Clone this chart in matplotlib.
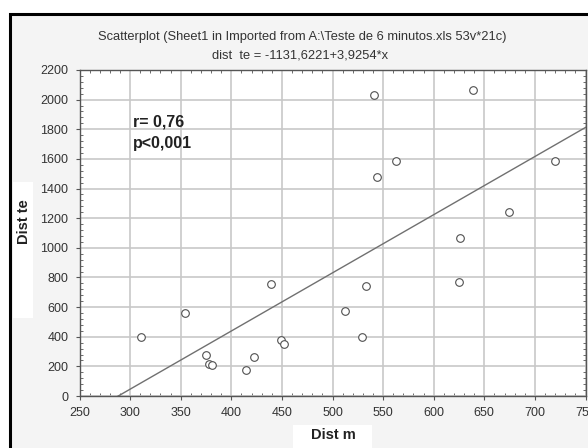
import matplotlib
matplotlib.use("Agg")
import matplotlib.pyplot as plt
from matplotlib.patches import Rectangle
from matplotlib.ticker import MultipleLocator

plt.rcParams['font.family'] = ['Liberation Sans', 'DejaVu Sans']

# data
dist_m = [311, 354, 375, 378, 381, 415, 422, 439, 449, 452,
          512, 529, 533, 541, 544, 563, 625, 626, 639, 674, 720]
dist_te = [395, 559, 274, 217, 210, 175, 265, 754, 377, 352,
           574, 397, 743, 2032, 1477, 1587, 770, 1066, 2065, 1241, 1587]
intercept = -1131.6221
slope = 3.9254
x_ticks = [250, 300, 350, 400, 450, 500, 550, 600, 650, 700, 750]
y_ticks = [0, 200, 400, 600, 800, 1000, 1200, 1400, 1600, 1800, 2000, 2200]

W, H = 588, 448
fig = plt.figure(figsize=(W / 100, H / 100), dpi=100)
fig.patch.set_facecolor('white')

# outer frame (cropped on right and bottom)
fig.patches.append(Rectangle((9.5 / W, -0.1), 1.2, 1.1 - 14 / H,
                             transform=fig.transFigure, facecolor='#f4f4f4',
                             edgecolor='black', linewidth=2.2, zorder=0))

ax = fig.add_axes([79.5 / W, (H - 396) / H, 506 / W, 326 / H])
ax.set_zorder(2)
ax.set_facecolor('white')

ax.grid(True, color='#c8c8c8', linewidth=1.2)
ax.set_axisbelow(True)

xs = [x_ticks[0], x_ticks[-1]]
ax.plot(xs, [intercept + slope * x for x in xs], color='#707070', linewidth=1.0, zorder=2)
ax.plot(dist_m, dist_te, linestyle='none', marker='o', markersize=5.5,
        markerfacecolor='white', markeredgecolor='#505050', markeredgewidth=0.8, zorder=3)

ax.set_xlim(250, 750)
ax.set_ylim(0, 2200)
ax.set_xticks(x_ticks)
ax.set_xticklabels([str(t) for t in x_ticks])
ax.set_yticks(y_ticks)
ax.xaxis.set_minor_locator(MultipleLocator(10))
ax.yaxis.set_minor_locator(MultipleLocator(40))
ax.tick_params(which='major', direction='out', length=3, width=0.8, color='#555555',
               labelsize=9, labelcolor='#333333', pad=5)
ax.tick_params(which='minor', direction='in', length=2, width=0.6, color='#555555',
               top=True, right=True)
for s in ax.spines.values():
    s.set_color('#555555')
    s.set_linewidth(1.0)

fig.text(302 / W, 1 - 37 / H, 'Scatterplot (Sheet1 in Imported from A:\\Teste de 6 minutos.xls 53v*21c)',
         ha='center', va='center', fontsize=9.3, color='#333333')
fig.text(300 / W, 1 - 55 / H, 'dist  te = -1131,6221+3,9254*x',
         ha='center', va='center', fontsize=9.3, color='#333333')

fig.text(133 / W, 1 - 122 / H, 'r= 0,76', ha='left', va='center',
         fontsize=11.5, fontweight='bold', color='#222222')
fig.text(133 / W, 1 - 143 / H, 'p<0,001', ha='left', va='center',
         fontsize=11.5, fontweight='bold', color='#222222')

fig.patches.append(Rectangle((13 / W, 1 - 318 / H), 20 / W, 136 / H,
                             transform=fig.transFigure, facecolor='white',
                             edgecolor='none', zorder=0.5))
fig.text(23.5 / W, 1 - 222 / H, 'Dist te', ha='center', va='center', rotation=90,
         fontsize=10.5, fontweight='bold', color='#222222')
fig.patches.append(Rectangle((293 / W, 0), 79 / W, 23 / H,
                             transform=fig.transFigure, facecolor='white',
                             edgecolor='none', zorder=0.5))
fig.text(333 / W, 1 - 435 / H, 'Dist m', ha='center', va='center',
         fontsize=10.5, fontweight='bold', color='#222222')

fig.savefig('out.png', dpi=100)
